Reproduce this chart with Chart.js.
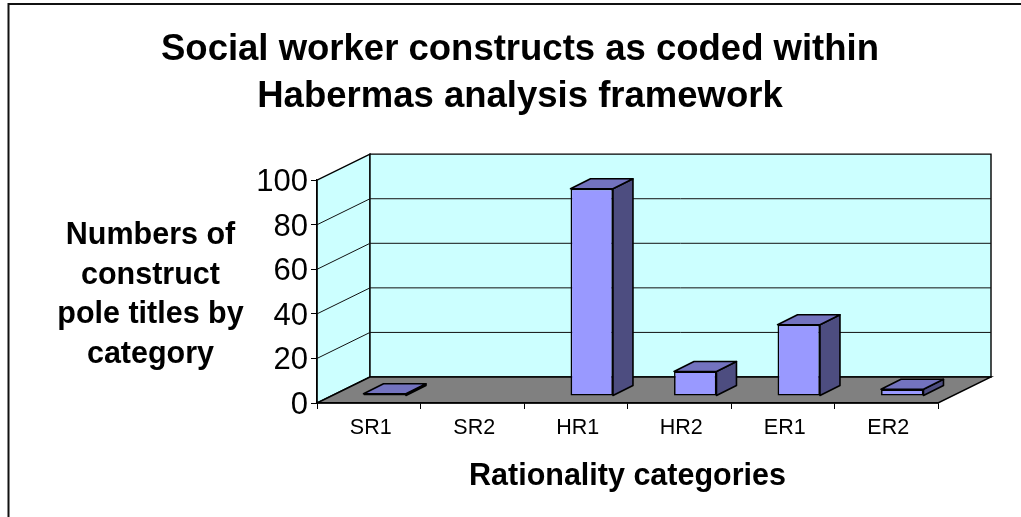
<!DOCTYPE html>
<html>
<head>
<meta charset="utf-8">
<script src="https://cdn.jsdelivr.net/npm/chart.js@4/dist/chart.umd.min.js"></script>
<style>
html, body { margin: 0; padding: 0; background: #fff; }
canvas { display: block; }
</style>
</head>
<body>
<canvas id="chart" width="1021" height="517"></canvas>
<script>
const categories = ['SR1', 'SR2', 'HR1', 'HR2', 'ER1', 'ER2'];
const constructCounts = [1, 0, 93, 11, 32, 3];
const yTicks = [0, 20, 40, 60, 80, 100];
const titleLines = ['Social worker constructs as coded within', 'Habermas analysis framework'];
const yTitleLines = ['Numbers of', 'construct', 'pole titles by', 'category'];
const xTitle = 'Rationality categories';

const FONT = '"Liberation Sans", Arial, sans-serif';
const wallDepth = {x: 53, y: -26};
const barShift = {x: 16, y: -7};
const barDepth = {x: 20, y: -10};

function face(ctx, points, fill) {
	ctx.beginPath();
	points.forEach((p, i) => {
		if (i === 0) ctx.moveTo(p[0], p[1]);
		else ctx.lineTo(p[0], p[1]);
	});
	ctx.closePath();
	ctx.fillStyle = fill;
	ctx.fill();
	ctx.stroke();
}

// the Excel style 3D box: walls and floor behind the axes, depth faces on the bars
const box3d = {
	id: 'box3d',
	beforeDraw(chart) {
		const ctx = chart.ctx;
		const {left, right, top, bottom} = chart.chartArea;
		const dx = wallDepth.x;
		const dy = wallDepth.y;
		ctx.save();
		ctx.strokeStyle = '#111';
		ctx.lineWidth = 2;
		ctx.beginPath();
		ctx.moveTo(8.5, chart.height);
		ctx.lineTo(8.5, 4);
		ctx.lineTo(chart.width, 4);
		ctx.stroke();
		ctx.strokeStyle = '#000';
		ctx.lineWidth = 1.4;
		face(ctx, [[left, bottom], [left + dx, bottom + dy], [left + dx, top + dy], [left, top]], '#ccffff');
		face(ctx, [[left + dx, bottom + dy], [right + dx, bottom + dy], [right + dx, top + dy], [left + dx, top + dy]], '#ccffff');
		face(ctx, [[left, bottom], [right, bottom], [right + dx, bottom + dy], [left + dx, bottom + dy]], '#808080');
		ctx.lineWidth = 1;
		ctx.strokeStyle = '#111';
		yTicks.forEach((v) => {
			if (v === 0 || v === 100) return;
			const y = chart.scales.y.getPixelForValue(v);
			ctx.beginPath();
			ctx.moveTo(left, y);
			ctx.lineTo(left + dx, y + dy);
			ctx.lineTo(right + dx, y + dy);
			ctx.stroke();
		});
		ctx.restore();
	},
	beforeDatasetsDraw(chart) {
		chart.ctx.save();
		chart.ctx.translate(barShift.x, barShift.y);
	},
	afterDatasetsDraw(chart) {
		const ctx = chart.ctx;
		ctx.strokeStyle = '#000';
		ctx.lineWidth = 1.6;
		ctx.lineJoin = 'round';
		chart.getDatasetMeta(0).data.forEach((bar, i) => {
			if (!constructCounts[i]) return;
			const l = bar.x - bar.width / 2;
			const r = bar.x + bar.width / 2;
			const dx = barDepth.x;
			const dy = barDepth.y;
			face(ctx, [[r, bar.base], [r + dx, bar.base + dy], [r + dx, bar.y + dy], [r, bar.y]], '#4d4d80');
			face(ctx, [[l, bar.y], [r, bar.y], [r + dx, bar.y + dy], [l + dx, bar.y + dy]], '#7373bf');
		});
		ctx.restore();
	},
	afterDraw(chart) {
		const ctx = chart.ctx;
		ctx.save();
		ctx.fillStyle = '#000';
		ctx.font = 'bold 30.5px ' + FONT;
		ctx.textAlign = 'center';
		ctx.textBaseline = 'middle';
		yTitleLines.forEach((line, i) => {
			ctx.fillText(line, 150.5, 235.5 + i * 39.7);
		});
		ctx.restore();
	}
};

new Chart(document.getElementById('chart'), {
	type: 'bar',
	data: {
		labels: categories,
		datasets: [{
			data: constructCounts,
			backgroundColor: '#9999ff',
			borderColor: '#000',
			borderWidth: 1.6,
			borderSkipped: false,
			barPercentage: 0.41,
			categoryPercentage: 1,
			clip: false
		}]
	},
	options: {
		responsive: false,
		animation: false,
		layout: {padding: {top: 26, left: 102, right: 83}},
		plugins: {
			legend: {display: false},
			tooltip: {enabled: false},
			title: {
				display: true,
				text: titleLines,
				color: '#000',
				font: {family: FONT, size: 36.5, weight: 'bold', lineHeight: 1.29},
				padding: {top: 0, bottom: 60}
			}
		},
		scales: {
			x: {
				afterFit(scale) { scale.height = 114; },
				grid: {drawOnChartArea: false, color: '#000', tickLength: 6, offset: true},
				border: {color: '#000', width: 1.4},
				ticks: {color: '#000', font: {family: FONT, size: 21.5}, padding: 6, maxRotation: 0, labelOffset: 2},
				title: {
					display: true,
					text: xTitle,
					color: '#000',
					font: {family: FONT, size: 30.5, weight: 'bold'},
					padding: {top: 0, bottom: 22}
				}
			},
			y: {
				min: 0,
				max: 100,
				afterFit(scale) { scale.width = 215; },
				afterBuildTicks(scale) { scale.ticks = yTicks.map((v) => ({value: v})); },
				grid: {drawOnChartArea: false, color: '#000', tickLength: 6},
				border: {color: '#000', width: 1.4},
				ticks: {color: '#000', font: {family: FONT, size: 31}, padding: 3, labelOffset: 2.5}
			}
		}
	},
	plugins: [box3d]
});
</script>
</body>
</html>
